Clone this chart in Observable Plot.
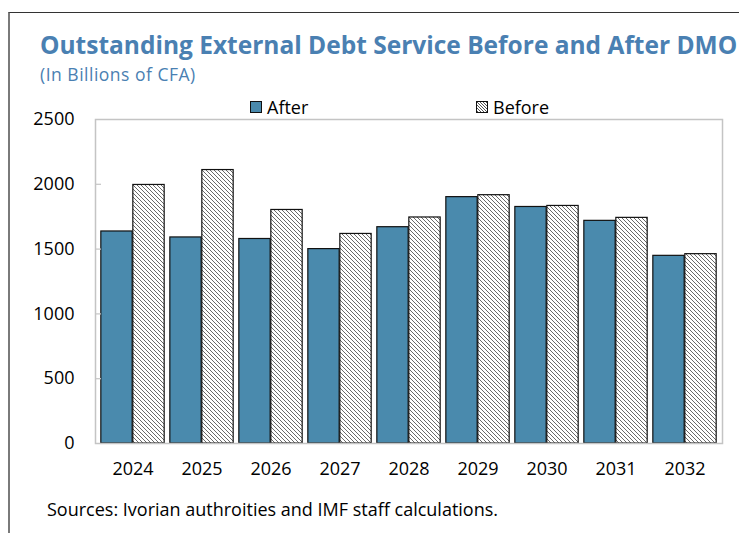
<!DOCTYPE html>
<html>
<head>
<meta charset="utf-8">
<script src="https://cdn.jsdelivr.net/npm/d3@7"></script>
<script src="https://cdn.jsdelivr.net/npm/@observablehq/plot@0.6"></script>
<style>
  html, body { margin: 0; padding: 0; background: #fff; }
  #wrap { position: relative; width: 739px; height: 533px; overflow: hidden; font-family: "Open Sans", sans-serif; }
  #border { position: absolute; left: 8px; top: 12px; width: 740px; height: 530px; border-left: 2px solid #7a7a7a; border-top: 1px solid #333; }
  #title { position: absolute; left: 40px; top: 31px; white-space: nowrap; font-weight: bold; font-size: 24.5px; line-height: 28px; color: #4a80b2; }
  #subtitle { position: absolute; left: 40px; top: 63px; white-space: nowrap; font-size: 17.5px; letter-spacing: 0.5px; line-height: 22px; color: #4a80b2; }
  #legend { position: absolute; top: 95px; left: 0; width: 739px; height: 24px; font-size: 18px; line-height: 24px; color: #000; }
  .item { position: absolute; top: 0; display: flex; align-items: center; gap: 5px; height: 24px; }
  #chart { position: absolute; left: 0; top: 100px; }
  #source { position: absolute; left: 47px; top: 497px; white-space: nowrap; font-size: 18px; line-height: 24px; color: #000; }
</style>
</head>
<body>
<div id="wrap">
  <div id="border"></div>
  <div id="title">Outstanding External Debt Service Before and After DMO</div>
  <div id="subtitle">(In Billions of CFA)</div>
  <div id="legend"></div>
  <div id="chart"></div>
  <div id="source">Sources: Ivorian authroities and IMF staff calculations.</div>
</div>
<script>
const years = ["2024", "2025", "2026", "2027", "2028", "2029", "2030", "2031", "2032"];
const after = [1636, 1590, 1578, 1500, 1669, 1901, 1825, 1718, 1448];
const before = [1995, 2110, 1802, 1617, 1744, 1916, 1833, 1741, 1461];
const yTicks = [0, 500, 1000, 1500, 2000, 2500];
const seriesNames = ["After", "Before"];

const blue = "#4a8aad";
const hatch = "url(#hatch)";

const afterData = years.map((y, i) => ({year: y, value: after[i]}));
const beforeData = years.map((y, i) => ({year: y, value: before[i]}));

const W = 739, H = 380, mL = 95, mR = 17, mT = 19, mB = 37;
const band = (W - mL - mR) / years.length;
const barW = 32, gap = (band - 2 * barW) / 2;

const chart = Plot.plot({
  width: W, height: H,
  marginLeft: mL, marginRight: mR, marginTop: mT, marginBottom: mB,
  style: {fontFamily: "Open Sans, sans-serif", fontSize: "18px", color: "#000", background: "transparent", overflow: "visible"},
  x: {domain: years, padding: 0, label: null},
  y: {domain: [0, 2500], label: null},
  marks: [
    Plot.barY(afterData, {x: "year", y: "value", fill: blue, stroke: "#111", strokeWidth: 1.2,
      insetLeft: gap, insetRight: gap + barW}),
    Plot.barY(beforeData, {x: "year", y: "value", fill: hatch, stroke: "#111", strokeWidth: 1.2,
      insetLeft: gap + barW, insetRight: gap}),
    Plot.frame({stroke: "#c4c4c4", strokeWidth: 1.5}),
    Plot.axisY({ticks: yTicks, tickSize: 0, tickPadding: 21, tickFormat: d => String(d), fontSize: 18}),
    Plot.axisY({ticks: yTicks.slice(1, -1), tickSize: 6, dx: 6, text: null, stroke: "#c4c4c4", strokeWidth: 1.2}),
    Plot.axisX({tickSize: 0, tickPadding: 19, fontSize: 18})
  ]
});

// hatch pattern definition
const ns = "http://www.w3.org/2000/svg";
const defs = document.createElementNS(ns, "defs");
defs.innerHTML = `<pattern id="hatch" patternUnits="userSpaceOnUse" width="4" height="4">
  <rect width="4" height="4" fill="#ffffff"/>
  <path d="M-1,-1 L5,5 M-1,3 L1,5 M3,-1 L5,1" stroke="#6a6a6a" stroke-width="1"/>
</pattern>`;
chart.insertBefore(defs, chart.firstChild);
document.getElementById("chart").appendChild(chart);

// legend
const legend = document.getElementById("legend");
const legendX = [250, 476];
seriesNames.forEach((name, i) => {
  const item = document.createElement("div");
  item.className = "item";
  item.style.left = legendX[i] + "px";
  const sw = `<svg width="12" height="12" style="display:block"><defs><pattern id="lh${i}" patternUnits="userSpaceOnUse" width="3" height="3"><rect width="3" height="3" fill="#fff"/><path d="M-1,-1 L4,4 M-1,2 L1,4 M2,-1 L4,1" stroke="#444" stroke-width="0.9"/></pattern></defs><rect x="0.5" y="0.5" width="11" height="11" fill="${i === 0 ? blue : `url(#lh${i})`}" stroke="#111" stroke-width="1"/></svg>`;
  item.innerHTML = sw + `<span>${name}</span>`;
  legend.appendChild(item);
});
</script>
</body>
</html>
